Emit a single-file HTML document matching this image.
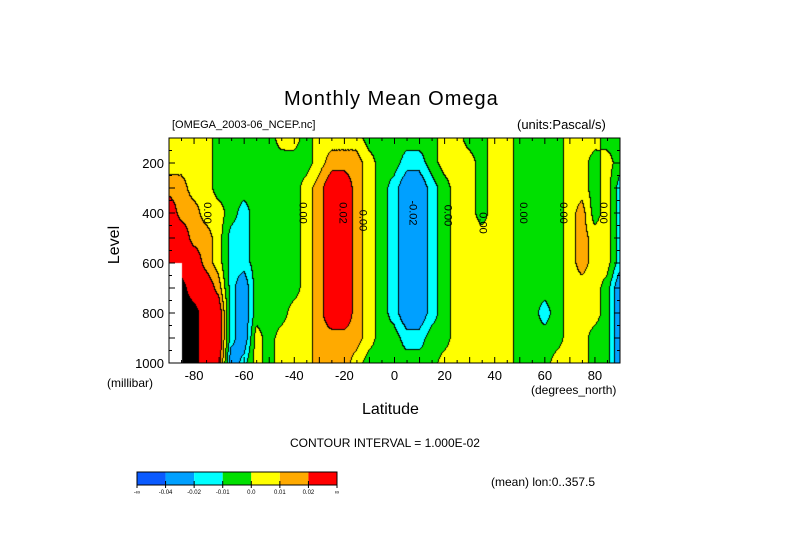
<!DOCTYPE html>
<html><head><meta charset="utf-8"><style>
body{margin:0;background:#fff;width:789px;height:558px;overflow:hidden;position:relative;font-family:"Liberation Sans",sans-serif}
.t{position:absolute;white-space:nowrap;color:#000}
canvas{position:absolute;left:169px;top:138px}
svg{position:absolute;left:0;top:0}
</style></head><body>
<div class="t" style="left:284px;top:88px;font-size:20px;letter-spacing:1px">Monthly Mean Omega</div>
<div class="t" style="left:172px;top:119px;font-size:11px">[OMEGA_2003-06_NCEP.nc]</div>
<div class="t" style="left:517px;top:117px;font-size:13px">(units:Pascal/s)</div>
<div class="t" style="left:96px;top:236px;font-size:16px;transform:rotate(-90deg)">Level</div>
<div class="t" style="left:107px;top:376px;font-size:12px">(millibar)</div>
<div class="t" style="left:531px;top:383px;font-size:12px">(degrees_north)</div>
<div class="t" style="left:362px;top:401px;font-size:16px">Latitude</div>
<div class="t" style="left:290px;top:436px;font-size:12px">CONTOUR INTERVAL = 1.000E-02</div>
<div class="t" style="left:491px;top:475px;font-size:12px">(mean) lon:0..357.5</div>
<canvas id="cv" width="451" height="225"></canvas>
<svg id="sv" width="789" height="558"></svg>
<script>
const lats=[-90,-85,-80,-75,-70,-65,-60,-55,-50,-45,-40,-35,-30,-25,-20,-15,-10,-5,0,5,10,15,20,25,30,35,40,45,50,55,60,65,70,75,80,85,90];
const levels=[100,200,300,400,500,600,700,800,900,1000];
const N=NaN;
const row100=[.005,.005,.005,.005,-.005,-.005,-.005,-.005,-.005,.005,.005,-.005,.005,.005,.005,.005,-.005,-.005,-.005,-.005,-.005,-.005,.005,.005,-.005,-.005,.005,.005,-.005,-.005,-.005,-.005,.005,.005,.005,-.005,-.005];
const row200=[.005,.005,.005,.005,-.005,-.005,-.005,-.005,-.005,-.005,-.005,-.005,.005,.015,.015,.015,.005,-.005,-.005,-.015,-.015,-.005,.005,.005,.005,-.005,.005,.005,-.005,-.005,-.005,-.005,.005,.005,-.005,.005,-.005];
const row300=[.015,.015,.005,.005,-.005,-.005,-.005,-.005,-.005,-.005,-.005,.005,.015,.03,.03,.015,.005,-.005,-.015,-.03,-.03,-.015,-.005,.005,.005,-.005,.005,.005,-.005,-.005,-.005,-.005,.005,.005,-.005,.005,-.015];
const row400=[.03,.015,.015,.005,.005,-.005,-.015,-.005,-.005,-.005,-.005,.005,.015,.03,.03,.015,.005,-.005,-.015,-.03,-.03,-.015,-.005,.005,.005,-.005,.005,.005,-.005,-.005,-.005,-.005,.005,.015,-.005,.005,-.015];
const row500=[.03,.03,.015,.015,.005,-.015,-.015,-.005,-.005,-.005,-.005,.005,.015,.03,.03,.015,.005,-.005,-.015,-.03,-.03,-.015,-.005,.005,.005,.005,.005,.005,-.005,-.005,-.005,-.005,.005,.015,.005,.005,-.015];
const row600=[.03,.03,.03,.015,.005,-.015,-.015,-.005,-.005,-.005,-.005,.005,.015,.03,.03,.015,.005,-.005,-.015,-.03,-.03,-.015,-.005,.005,.005,.005,.005,.005,-.005,-.005,-.005,-.005,.005,.015,.005,.005,-.015];
const row700=[N,.08,.03,.03,.015,-.015,-.03,-.005,-.005,-.005,-.005,.005,.015,.03,.03,.015,.005,-.005,-.015,-.03,-.03,-.015,-.005,.005,.005,.005,.005,.005,-.005,-.005,-.005,-.005,.005,.005,.005,-.005,-.03];
const row800=[N,.08,.08,.03,.03,-.015,-.03,-.005,-.005,-.005,.005,.005,.015,.03,.03,.015,.005,-.005,-.015,-.03,-.03,-.015,-.005,.005,.005,.005,.005,.005,-.005,-.005,-.015,-.005,.005,.005,.005,-.005,-.03];
const row900=[N,.08,.08,.03,.03,-.015,-.03,.005,-.005,.005,.005,.005,.015,.015,.015,.015,.005,-.005,-.005,-.015,-.015,-.005,-.005,.005,.005,.005,.005,.005,-.005,-.005,-.005,-.005,.005,.005,-.005,-.005,-.03];
const row1000=[N,.08,.08,.03,.03,-.03,-.015,.005,-.005,.005,.005,.005,.015,.015,.015,.005,-.005,-.005,-.005,-.005,-.005,-.005,.005,.005,.005,.005,.005,.005,-.005,-.005,-.005,.005,.005,.005,-.005,-.005,-.03];
const grid=[row100,row200,row300,row400,row500,row600,row700,row800,row900,row1000];
const xTicks=[-80,-60,-40,-20,0,20,40,60,80];
const yTicks=[200,400,600,800,1000];
const cbLabels=["-\u221e","-0.04","-0.02","-0.01","0.0","0.01","0.02","\u221e"];
const cbColors=["#0a5aff","#00a0ff","#00ffff","#00e000","#ffff00","#ffaa00","#ff0000"];

const X0=169,X1=620,Y0=138,Y1=363;
const xs=lat=>X0+(lat+90)/180*(X1-X0);
const ys=p=>Y1-(1000-p)/900*(Y1-Y0);
function bin(v){if(isNaN(v))return -9;if(v>0.06)return 9;if(v<-0.04)return 0;if(v<-0.02)return 1;if(v<-0.01)return 2;if(v<0)return 3;if(v<0.01)return 4;if(v<0.02)return 5;return 6;}
function val(lat,p){
 let fi=(lat-lats[0])/5, fj=(p-levels[0])/100;
 fi=Math.max(0,Math.min(lats.length-1.0001,fi)); fj=Math.max(0,Math.min(levels.length-1.0001,fj));
 const i=Math.floor(fi),j=Math.floor(fj),a=fi-i,b=fj-j;
 const v00=grid[j][i],v10=grid[j][i+1],v01=grid[j+1][i],v11=grid[j+1][i+1];
 return v00*(1-a)*(1-b)+v10*a*(1-b)+v01*(1-a)*b+v11*a*b;
}
const cv=document.getElementById('cv'),ctx=cv.getContext('2d');
const W=cv.width,H=cv.height,img=ctx.createImageData(W,H);
const bins=[];
for(let y=0;y<H;y++){bins[y]=[];for(let x=0;x<W;x++){
 const lat=-90+(x+0.5)/W*180,p=100+(y+0.5)/H*900;bins[y][x]=bin(val(lat,p));}}
function hex(c){return [parseInt(c.substr(1,2),16),parseInt(c.substr(3,2),16),parseInt(c.substr(5,2),16)];}
for(let y=0;y<H;y++)for(let x=0;x<W;x++){
 const b=bins[y][x];let c;
 if(b===-9)c=[255,255,255];else if(b===9)c=[0,0,0];else c=hex(cbColors[b]);
 const edge=b!==-9&&((x+1<W&&bins[y][x+1]!==b&&bins[y][x+1]!==-9)||(y+1<H&&bins[y+1][x]!==b&&bins[y+1][x]!==-9));
 if(edge)c=[0,0,0];
 const k=(y*W+x)*4;img.data[k]=c[0];img.data[k+1]=c[1];img.data[k+2]=c[2];img.data[k+3]=255;}
ctx.putImageData(img,0,0);

const NS='http://www.w3.org/2000/svg',sv=document.getElementById('sv');
function mk(t,at){const e=document.createElementNS(NS,t);for(const k in at)e.setAttribute(k,at[k]);sv.appendChild(e);return e;}
const fr=mk('rect',{x:X0,y:Y0,width:X1-X0,height:Y1-Y0,fill:'none',stroke:'#000','stroke-width':1});


for(let l=-90;l<=90;l+=5){const x=xs(l),len=(l%10===0)?6:3;
 mk('line',{x1:x,y1:Y1,x2:x,y2:Y1-len,stroke:'#000'});mk('line',{x1:x,y1:Y0,x2:x,y2:Y0+len,stroke:'#000'});}
for(let p=100;p<=1000;p+=50){const y=ys(p),len=(p%100===0)?6:3;
 mk('line',{x1:X0,y1:y,x2:X0+len,y2:y,stroke:'#000'});mk('line',{x1:X1,y1:y,x2:X1-len,y2:y,stroke:'#000'});}
xTicks.forEach(v=>{const t=mk('text',{x:xs(v),y:Y1+17,'font-size':13,'text-anchor':'middle','font-family':'Liberation Sans'});t.textContent=v;
 
 });
yTicks.forEach(v=>{const t=mk('text',{x:X0-5,y:ys(v)+5,'font-size':13,'text-anchor':'end','font-family':'Liberation Sans'});t.textContent=v;
 
 });
[[-76,400,'0.00'],[-38,400,'0.00'],[-22,400,'0.02'],[-14,430,'0.00'],[6,400,'-0.02'],[20,410,'0.00'],[34,440,'0.00'],[50,400,'0.00'],[66,400,'0.00'],[82,400,'0.00']].forEach(a=>{
 const t=mk('text',{x:xs(a[0]),y:ys(a[1]),'font-size':11,'text-anchor':'middle','font-family':'Liberation Sans',transform:`rotate(90 ${xs(a[0])} ${ys(a[1])})`});t.textContent=a[2];
 
 });
const cbx=137,cbw=200/7;
cbColors.forEach((c,i)=>{const r=mk('rect',{x:cbx+i*cbw,y:472,width:cbw,height:13,fill:c});
 
 });
mk('rect',{x:cbx,y:472,width:200,height:13,fill:'none',stroke:'#000'});
cbLabels.forEach((s,i)=>{mk('line',{x1:cbx+i*cbw,y1:481,x2:cbx+i*cbw,y2:488,stroke:'#000'});
 const t=mk('text',{x:cbx+i*cbw,y:494,'font-size':6,'text-anchor':'middle','font-family':'Liberation Sans'});t.textContent=s;
 
 });
</script>
</body></html>
